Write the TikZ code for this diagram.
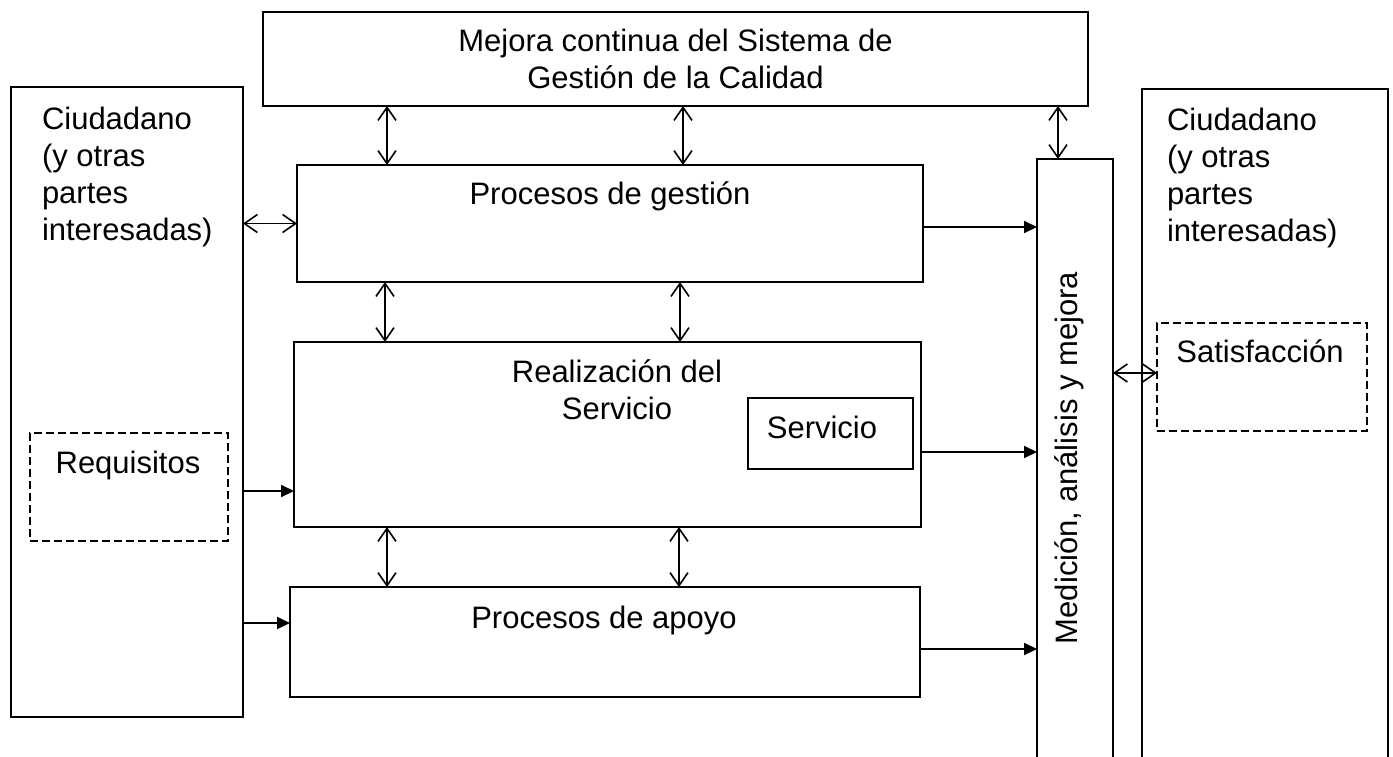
\documentclass[tikz,border=0pt]{standalone}
\usepackage{fontspec}
\setmainfont{Liberation Sans}
\usetikzlibrary{arrows.meta}
\begin{document}
\begin{tikzpicture}[x=1pt,y=-1pt,
  box/.style={draw, line width=2pt, rectangle, inner sep=0pt, outer sep=0pt},
  dbox/.style={box, dash pattern=on 8pt off 4pt},
  lbl/.style={inner sep=0pt, outer sep=0pt, font=\fontsize{31}{37.3}\selectfont},
  one/.style={line width=2pt, -{Triangle[length=13pt,width=12pt]}},
  two/.style={line width=1.6pt, {Straight Barb[length=13pt,width=18pt]}-{Straight Barb[length=13pt,width=18pt]}},
]
\useasboundingbox (0,0) rectangle (1393,756);
\clip (0,0) rectangle (1393,756);
\fill[white] (0,0) rectangle (1393,756);

% boxes
\node[box, minimum width=825pt, minimum height=94pt] (top) at (675.5,59) {};
\node[box, minimum width=232pt, minimum height=630pt] (lc) at (127,402) {};
\node[dbox, minimum width=198pt, minimum height=108pt] (req) at (129,487) {};
\node[box, minimum width=626pt, minimum height=117pt] (pg) at (610,223.5) {};
\node[box, minimum width=627pt, minimum height=185pt] (re) at (607.5,434.5) {};
\node[box, minimum width=165pt, minimum height=71pt] (serv) at (830.5,433.5) {};
\node[box, minimum width=630pt, minimum height=110pt] (pa) at (605,642) {};
\node[box, minimum width=76pt, minimum height=640pt] (med) at (1075,479) {};
\node[box, minimum width=246pt, minimum height=720pt] (rc) at (1265,449) {};
\node[dbox, minimum width=210pt, minimum height=108pt] (sat) at (1262,377) {};

% texts
\node[lbl, align=center] (tTop) at (675.5,59) {Mejora continua del Sistema de\\Gestión de la Calidad};
\node[lbl, align=left, anchor=west] (tLc) at (42,177) {Ciudadano\\(y otras\\partes\\interesadas)};
\node[lbl, align=left, anchor=west] (tRc) at (1167,178) {Ciudadano\\(y otras\\partes\\interesadas)};
\node[lbl, anchor=base] (tReq) at (128,473) {Requisitos};
\node[lbl, anchor=base] (tSat) at (1260,362) {Satisfacción};
\node[lbl, anchor=base] (tPg) at (610,204) {Procesos de gestión};
\node[lbl, align=center] (tRe) at (617,390) {Realización del\\Servicio};
\node[lbl, anchor=base] (tServ) at (822,438) {Servicio};
\node[lbl, anchor=base] (tPa) at (604,628) {Procesos de apoyo};
\node[lbl, rotate=90, anchor=base] (tMed) at (1077,458) {Medición, análisis y mejora};

% helper coordinates
\coordinate (v1) at (387,0);
\coordinate (v2) at (683,0);
\coordinate (v3) at (1058,0);
\coordinate (v4) at (385,0);
\coordinate (v5) at (680,0);
\coordinate (v6) at (387,0);
\coordinate (v7) at (679,0);
\coordinate (h1) at (0,227);
\coordinate (h2) at (0,452);
\coordinate (h3) at (0,649);
\coordinate (h4) at (0,491);
\coordinate (h5) at (0,623);
\coordinate (h6) at (0,373);

% double arrows
\draw[two] (top.south -| v1) -- (pg.north -| v1);
\draw[two] (top.south -| v2) -- (pg.north -| v2);
\draw[two] (top.south -| v3) -- (med.north -| v3);
\draw[two] (pg.south -| v4) -- (re.north -| v4);
\draw[two] (pg.south -| v5) -- (re.north -| v5);
\draw[two] (re.south -| v6) -- (pa.north -| v6);
\draw[two] (re.south -| v7) -- (pa.north -| v7);
\draw[two] (lc.east |- pg.west) -- (pg.west);
\draw[two] (med.east |- h6) -- (sat.west |- h6);

% single arrows
\draw[one] (pg.east |- h1) -- (med.west |- h1);
\draw[one] (re.east |- h2) -- (med.west |- h2);
\draw[one] (pa.east |- h3) -- (med.west |- h3);
\draw[one] (lc.east |- h4) -- (re.west |- h4);
\draw[one] (lc.east |- h5) -- (pa.west |- h5);
\end{tikzpicture}
\end{document}
